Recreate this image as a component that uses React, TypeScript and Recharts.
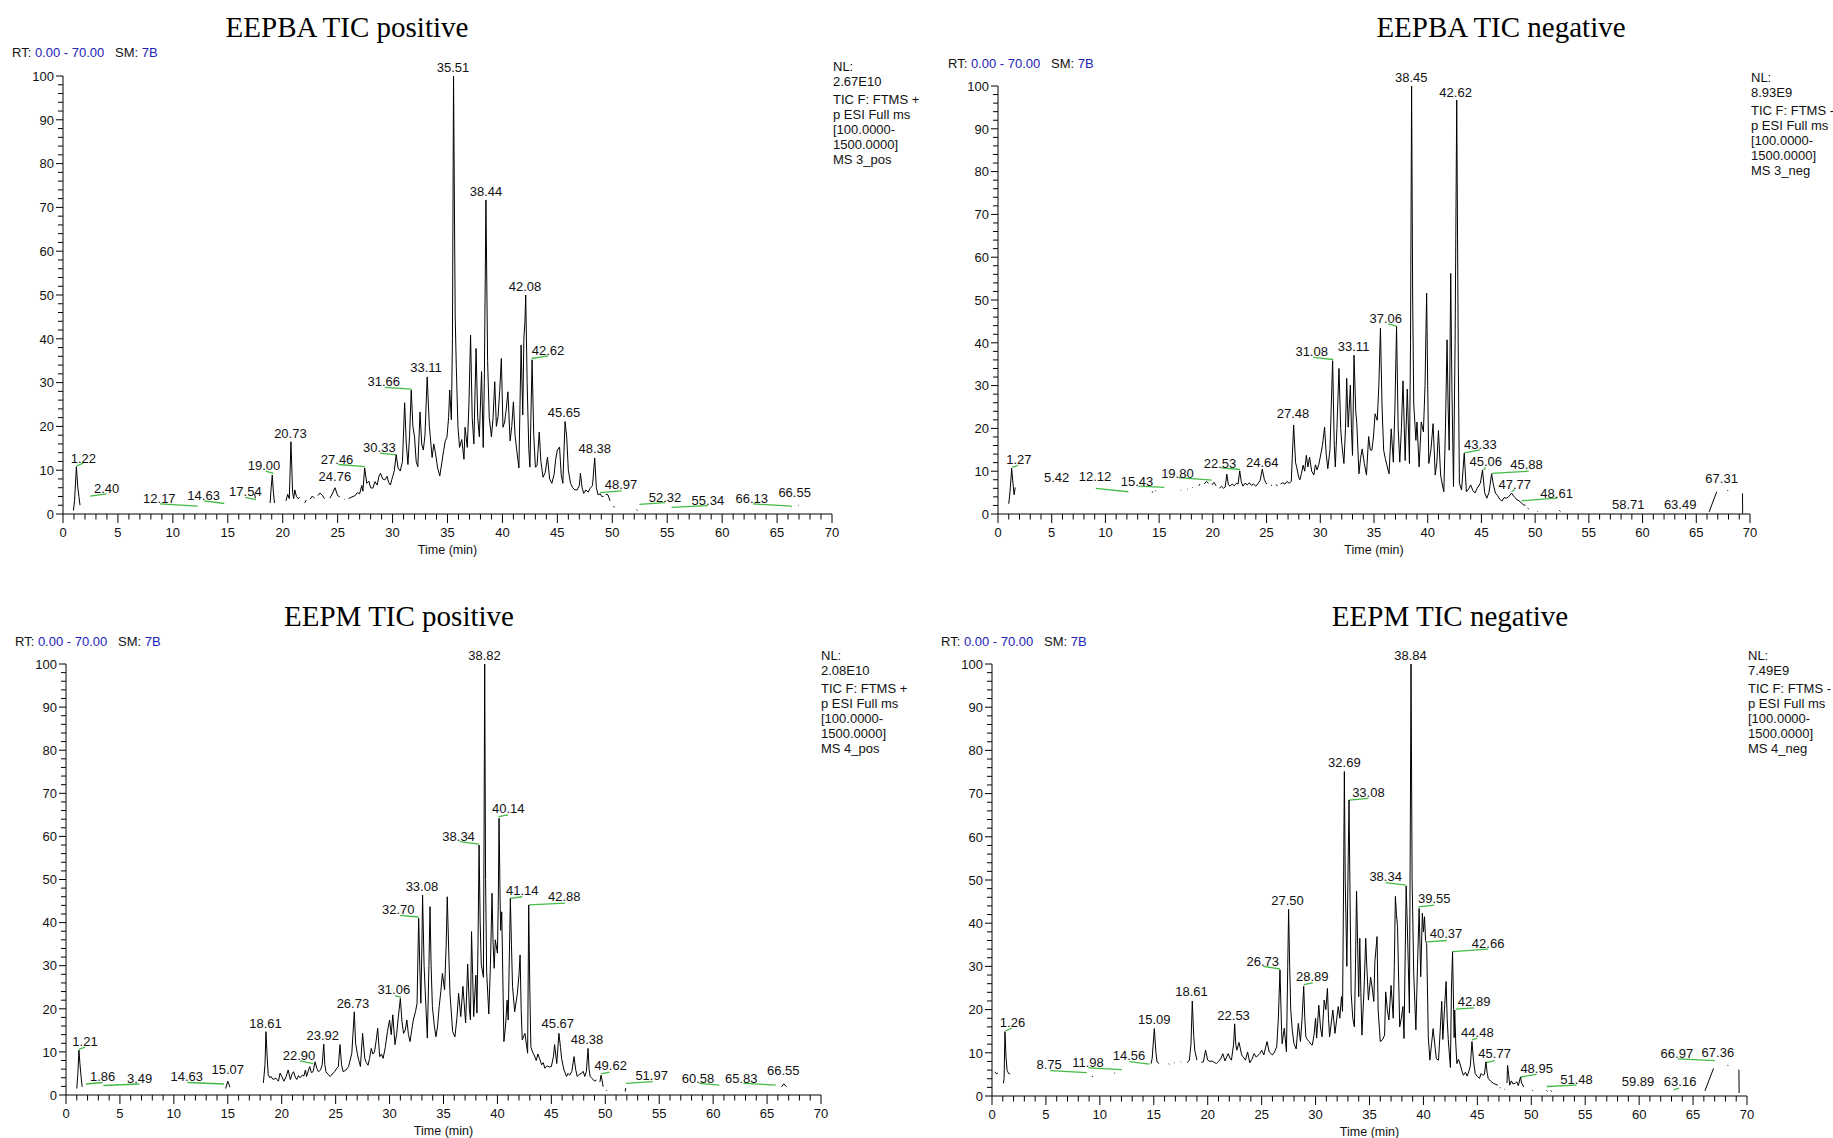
import { LineChart, Line, XAxis, YAxis, ReferenceLine, ReferenceDot } from "recharts";

// ---- axis ticks ----
const xTickLabels = [0, 5, 10, 15, 20, 25, 30, 35, 40, 45, 50, 55, 60, 65, 70];
const yTickLabels = [0, 10, 20, 30, 40, 50, 60, 70, 80, 90, 100];
const xTicks = Array.from({ length: 71 }, (_, i) => i);
const yTicks = Array.from({ length: 51 }, (_, i) => i * 2);

// ---- EEPBA TIC positive ----
const p1Trace: [number, number | null][] = [
  [0.95, 0.8], [1.05, 3], [1.22, 10.8], [1.35, 6], [1.45, 4], [1.55, 2], [1.6, null],
  [17.45, 4.6], [17.5, 3.6], [17.6, null],
  [18.85, 2.5], [18.95, 6], [19.05, 8.9], [19.15, 5], [19.25, 2.5], [19.4, null],
  [20.3, 3], [20.45, 4.5], [20.6, 3.5], [20.75, 16.5], [20.9, 5], [21.0, 3.5], [21.1, 5.5], [21.25, 4], [21.4, 3.5], [21.55, 3.8], [21.8, null],
  [22.0, 2.5], [22.15, 3.2], [22.3, null], [22.5, 3.4], [22.7, 4.1], [22.9, 3.6], [23.0, null],
  [23.2, 4.2], [23.4, 4.8], [23.6, 4.3], [23.8, 3.5], [24.0, null],
  [24.3, 3.6], [24.55, 4.8], [24.76, 6], [25.0, 4.2], [25.2, 3.9], [25.4, null], [25.6, 3.4], [25.65, 3.3], [25.8, null],
  [26.0, 3.5], [26.3, 3.9], [26.6, 4.2], [26.8, 4.9], [27.0, 4.6], [27.2, 6.5], [27.3, 5.2], [27.46, 10.5], [27.65, 7], [27.85, 7.5],
  [28.0, 6], [28.2, 5.9], [28.4, 7.4], [28.6, 6.6], [28.75, 8.5], [28.9, 9.3], [29.1, 8], [29.3, 7.8], [29.5, 8.6], [29.65, 7.2],
  [29.8, 6.6], [30.0, 8.5], [30.15, 9.8], [30.33, 13.5], [30.5, 10.5], [30.7, 9.8], [30.9, 12], [31.1, 25.4], [31.25, 16], [31.4, 11.3],
  [31.55, 18], [31.7, 28.3], [31.85, 20], [32.0, 17.6], [32.15, 12], [32.3, 10.8], [32.5, 23.3], [32.65, 16], [32.8, 14.6], [32.95, 18],
  [33.15, 31.3], [33.35, 20], [33.6, 12.9], [33.75, 16], [33.9, 14], [34.1, 10.5], [34.3, 8.7], [34.5, 12], [34.65, 14.5], [34.8, 16.7],
  [34.95, 17.5], [35.1, 22], [35.2, 28.3], [35.35, 21.5], [35.45, 40], [35.55, 100], [35.7, 45], [35.8, 33.7], [35.95, 20], [36.1, 15.2],
  [36.3, 17], [36.5, 12.5], [36.6, 19.8], [36.8, 15.2], [36.95, 25], [37.1, 40.8], [37.25, 22], [37.4, 16], [37.6, 37.8], [37.75, 22],
  [37.9, 17.6], [38.1, 32.5], [38.25, 15.2], [38.35, 30], [38.5, 71.7], [38.65, 35], [38.8, 22], [39.0, 17.6], [39.15, 22], [39.3, 30.2],
  [39.45, 20], [39.6, 22.2], [39.75, 28], [39.9, 35.5], [40.05, 19.8], [40.2, 21], [40.35, 24], [40.5, 27.9], [40.7, 16.7], [40.85, 20],
  [41.0, 25.6], [41.15, 18], [41.3, 14.6], [41.5, 10.5], [41.6, 25], [41.7, 38.6], [41.85, 22.6], [41.95, 40], [42.05, 44], [42.12, 50],
  [42.25, 30], [42.4, 14.9], [42.5, 10.7], [42.7, 35.2], [42.85, 18], [43.0, 10.7], [43.15, 11], [43.35, 18.7], [43.5, 12], [43.7, 8.4],
  [43.9, 9.5], [44.1, 13], [44.3, 8], [44.5, 7], [44.7, 9], [44.85, 12.5], [45.0, 14.6], [45.2, 15.3], [45.35, 9], [45.5, 7],
  [45.7, 21.1], [45.85, 17.6], [46.0, 10], [46.2, 7], [46.4, 6], [46.6, 5.5], [46.8, 5.5], [47.0, 6.5], [47.1, 9.3], [47.25, 6],
  [47.4, 4.7], [47.6, 5.5], [47.8, 5], [48.0, 5.9], [48.2, 6.5], [48.4, 12.8], [48.55, 6], [48.7, 4.4], [48.9, 4.6], [49.05, 4.0],
  [49.2, 4.0], [49.3, null], [49.4, 4.5], [49.6, 4.4], [49.8, 3.0], [49.95, null], [50.1, 1.8], [50.2, 1.5], [50.5, null],
  [52.2, 1.0], [52.3, 0.8], [52.5, null], [66.25, 1.7], [66.3, 1.6], [66.5, null], [66.95, 2.0], [67.0, 1.9],
];
const p1Labels: [string, number, number][] = [
  ["1.22", 1.85, 11.6], ["2.40", 3.97, 4.7], ["12.17", 8.77, 2.5], ["14.63", 12.8, 3.2], ["17.54", 16.6, 4.2],
  ["19.00", 18.3, 10], ["20.73", 20.7, 17.3], ["24.76", 24.75, 7.6], ["27.46", 24.95, 11.5], ["30.33", 28.8, 14.2],
  ["31.66", 29.2, 29.2], ["33.11", 33.05, 32.5], ["35.51", 35.5, 101], ["38.44", 38.5, 72.6], ["42.08", 42.05, 51],
  ["42.62", 44.15, 36.3], ["45.65", 45.6, 22.2], ["48.38", 48.4, 13.9], ["48.97", 50.8, 5.7], ["52.32", 54.8, 2.8],
  ["55.34", 58.7, 2.0], ["66.13", 62.7, 2.6], ["66.55", 66.6, 3.9],
];
const p1Flags: [number, number, number, number][] = [
  [1.25, 11.0, 1.85, 11.6], [2.46, 4.1, 3.97, 4.6], [8.83, 2.3, 12.26, 1.8], [12.83, 3.0, 14.68, 2.4],
  [16.6, 3.8, 17.57, 3.3], [18.45, 9.8, 19.15, 9.3], [25.06, 11.3, 27.5, 10.8], [28.85, 13.9, 30.37, 13.5],
  [29.3, 28.9, 31.74, 28.5], [42.66, 35.5, 44.17, 36.1], [48.88, 4.9, 50.85, 5.3], [52.46, 2.2, 54.8, 2.6],
  [55.4, 1.5, 58.7, 1.9], [62.8, 2.3, 66.3, 1.8],
];
const p1Info = ["NL:", "2.67E10", "TIC F: FTMS +", "p ESI Full ms", "[100.0000-", "1500.0000]", "MS 3_pos"];

// ---- EEPBA TIC negative ----
const p2Trace: [number, number | null][] = [
  [1.0, 2.4], [1.1, 4.7], [1.2, 8], [1.27, 10.7], [1.4, 7], [1.5, 4.5], [1.6, 6.2], [1.7, null],
  [14.35, 5.3], [14.4, 5.0], [14.5, null], [14.65, 5.5], [14.7, 5.3], [14.8, null],
  [17.0, 5.6], [17.05, 5.5], [17.2, null], [17.6, 5.9], [17.65, 5.8], [17.8, null], [18.1, 6.2], [18.15, 6.1], [18.3, null],
  [18.7, 6.6], [18.8, 7.0], [18.9, null], [19.2, 7.0], [19.4, 7.6], [19.6, 7.2], [19.7, null],
  [19.9, 6.8], [20.1, 7.4], [20.3, 6.6], [20.45, null], [20.6, 6.0], [20.8, 6.5], [21.0, 6.0], [21.15, 6.3], [21.3, 9.3], [21.45, 6.8],
  [21.6, 6.5], [21.8, 7.0], [22.0, 6.6], [22.2, 7.2], [22.35, 7.0], [22.5, 10.1], [22.65, 7.5], [22.8, 6.5], [23.0, 7.2], [23.2, 6.8],
  [23.4, 7.3], [23.6, 6.7], [23.8, 7.0], [24.0, 6.5], [24.2, 7.1], [24.4, 7.8], [24.6, 10.5], [24.8, 8.0], [25.0, 7.0], [25.2, null],
  [25.4, 6.6], [25.5, 6.8], [25.7, null], [25.9, 6.9], [26.0, 6.5], [26.15, null],
  [26.3, 7.0], [26.5, 7.3], [26.7, 7.0], [26.9, 7.6], [27.1, 7.2], [27.3, 7.6], [27.52, 20.8], [27.7, 12], [27.8, 11.0], [28.0, 8.5],
  [28.1, 8.0], [28.25, 9.5], [28.4, 11.4], [28.55, 10], [28.7, 13.7], [28.85, 11], [29.0, 13.3], [29.2, 10], [29.4, 9.1], [29.55, 11.5],
  [29.7, 10.3], [29.85, 11.5], [30.0, 13.3], [30.2, 16], [30.4, 20.3], [30.55, 14], [30.7, 10.6], [30.9, 15], [31.15, 35.8], [31.3, 16],
  [31.4, 11.0], [31.55, 20], [31.74, 34.0], [31.9, 20], [32.0, 16.5], [32.2, 11.8], [32.35, 20], [32.46, 31.7], [32.55, 24], [32.6, 20.3],
  [32.8, 30.1], [32.9, 20], [33.0, 13.7], [33.14, 37.1], [33.3, 24], [33.4, 21.1], [33.6, 9.4], [33.75, 13], [33.9, 15.2], [34.1, 11.8],
  [34.3, 9.1], [34.5, 18.1], [34.65, 15], [34.8, 14.9], [34.95, 18], [35.1, 23.4], [35.3, 21.9], [35.45, 30], [35.6, 43.4], [35.75, 25],
  [35.9, 14.9], [36.05, 13], [36.2, 11.4], [36.4, 9.4], [36.6, 19.9], [36.8, 12.1], [36.95, 25], [37.1, 43.8], [37.25, 20], [37.4, 12.1],
  [37.55, 20], [37.7, 31.1], [37.9, 12.5], [38.1, 29.2], [38.3, 11.8], [38.4, 40], [38.5, 100], [38.6, 50], [38.7, 25.7], [38.9, 17.2],
  [39.0, 21.5], [39.2, 11.0], [39.4, 21.5], [39.6, 19.2], [39.75, 30], [39.9, 51.6], [40.0, 30], [40.1, 11.8], [40.3, 15], [40.5, 21.1],
  [40.7, 9.1], [40.85, 12], [41.0, 19.5], [41.2, 9.1], [41.35, 7], [41.5, 5.2], [41.65, 20], [41.8, 40.7], [41.9, 25], [42.0, 14.9],
  [42.14, 56.2], [42.25, 30], [42.4, 6.4], [42.55, 40], [42.7, 96.7], [42.85, 35], [42.95, 7.2], [43.15, 5.6], [43.4, 14.2], [43.6, 5.2],
  [43.8, 5.8], [44.0, 6.8], [44.2, 5.5], [44.4, 4.9], [44.6, 6], [44.9, 7.2], [45.1, 10.3], [45.3, 5], [45.5, 3.7], [45.7, 5],
  [45.95, 9.4], [46.1, 7], [46.3, 4.9], [46.5, 4.3], [46.7, 3.5], [46.9, 3.0], [47.1, 3.8], [47.35, 3.7], [47.6, 4.2], [47.8, 4.9],
  [48.0, 4.2], [48.15, 3.8], [48.3, 3.3], [48.5, 3.1], [48.7, 2.6], [48.9, 2.2], [49.1, 2.0], [49.2, null], [49.3, 1.4], [49.4, 1.2],
  [49.6, null], [50.2, 0.6], [50.25, 0.5], [50.4, null], [52.25, 0.9], [52.35, 0.6], [52.5, null],
  [66.2, 0.5], [66.9, 5.2], [67.2, null], [67.9, 5.6], [67.95, 5.4], [68.1, null], [69.3, 4.8], [69.32, 0.1],
];
const p2Labels: [string, number, number][] = [
  ["1.27", 1.95, 11.7], ["5.42", 5.46, 7.5], ["12.12", 9.03, 7.7], ["15.43", 12.94, 6.5], ["19.80", 16.7, 8.5],
  ["22.53", 20.66, 10.8], ["24.64", 24.6, 10.9], ["27.48", 27.46, 22.4], ["31.08", 29.2, 36.9], ["33.11", 33.1, 38.1],
  ["37.06", 36.1, 44.7], ["38.45", 38.47, 101], ["42.62", 42.6, 97.5], ["43.33", 44.9, 15.2], ["45.06", 45.4, 11.2],
  ["45.88", 49.2, 10.4], ["47.77", 48.1, 5.9], ["48.61", 52.0, 3.65], ["58.71", 58.67, 1.1], ["63.49", 63.5, 1.1],
  ["67.31", 67.36, 7.2],
];
const p2Flags: [number, number, number, number][] = [
  [1.33, 10.9, 1.89, 11.4], [9.1, 6.0, 12.13, 5.2], [13.06, 6.5, 15.48, 6.2], [16.8, 8.5, 19.9, 7.9],
  [20.76, 10.8, 22.53, 10.4], [29.35, 36.6, 31.2, 36.1], [36.3, 44.4, 37.1, 43.9], [43.41, 14.3, 44.87, 15.0],
  [45.2, 10.3, 45.4, 10.9], [46.0, 9.5, 49.4, 10.0], [47.8, 5.2, 48.1, 5.7], [48.75, 3.1, 52.06, 3.7],
];
const p2Info = ["NL:", "8.93E9", "TIC F: FTMS -", "p ESI Full ms", "[100.0000-", "1500.0000]", "MS 3_neg"];

// ---- EEPM TIC positive ----
const p3Trace: [number, number | null][] = [
  [1.0, 1.5], [1.1, 5], [1.2, 10.4], [1.3, 7], [1.4, 4.2], [1.5, 1.9], [1.6, null],
  [14.8, 1.5], [15.0, 3.2], [15.2, 1.8], [15.3, null],
  [18.3, 2.8], [18.45, 7], [18.54, 14.7], [18.65, 9], [18.75, 4.7], [18.9, 4.0], [19.0, 4.3], [19.2, 3.6], [19.45, 3.9], [19.7, 3.2],
  [19.85, 5.1], [20.0, 4.3], [20.2, 3.2], [20.4, 4.2], [20.6, 5.8], [20.8, 3.6], [20.95, 4.8], [21.1, 5.4], [21.25, 4.2], [21.4, 3.6],
  [21.55, 4.5], [21.7, 4.0], [21.9, 4.6], [22.05, 4.4], [22.2, 5.8], [22.3, 4.3], [22.45, 5.5], [22.6, 6.6], [22.75, 5.2], [22.9, 5.4],
  [23.1, 7.7], [23.25, 6.2], [23.4, 5.4], [23.6, 5.8], [23.75, 7], [23.9, 11.8], [24.0, 7], [24.1, 5.4], [24.3, 4.8], [24.5, 4.3],
  [24.7, 4.9], [24.9, 5.4], [25.1, 6.2], [25.25, 6.6], [25.4, 11.7], [25.55, 7], [25.7, 5.4], [25.95, 5.8], [26.2, 6.6], [26.5, 9.7],
  [26.73, 19.3], [26.85, 12], [27.0, 9.7], [27.15, 8], [27.3, 6.6], [27.5, 14.3], [27.7, 8.5], [27.85, 7.5], [28.0, 6.9], [28.15, 8.5],
  [28.3, 10.8], [28.45, 9.5], [28.6, 10.0], [28.75, 12.5], [28.9, 15.5], [29.05, 10], [29.1, 8.9], [29.25, 9.5], [29.4, 8.5], [29.6, 11],
  [29.8, 14.7], [30.0, 17.4], [30.15, 14], [30.3, 18.6], [30.5, 11.7], [30.65, 14], [30.8, 17.8], [31.0, 22.4], [31.15, 17], [31.3, 14.3],
  [31.45, 15], [31.6, 17.4], [31.75, 14], [31.9, 12.4], [32.05, 15], [32.2, 17.4], [32.4, 19.3], [32.55, 21.3], [32.65, 35], [32.7, 41.0],
  [32.8, 30], [32.9, 21.3], [33.0, 35], [33.06, 46.4], [33.2, 30], [33.3, 24.4], [33.5, 13.2], [33.65, 30], [33.75, 43.7], [33.85, 30],
  [33.97, 20.5], [34.15, 16], [34.3, 13.5], [34.45, 16], [34.6, 20.5], [34.75, 24], [34.9, 28.2], [35.1, 24.4], [35.25, 35], [35.35, 46.0],
  [35.5, 32], [35.6, 23.6], [35.85, 14.7], [36.06, 13.5], [36.25, 18], [36.4, 23.6], [36.6, 18.2], [36.8, 25.2], [37.05, 16.7], [37.24, 30.4],
  [37.4, 20], [37.5, 17.4], [37.6, 37.9], [37.7, 28], [37.8, 18.2], [38.0, 27.8], [38.1, 19.0], [38.2, 35], [38.3, 58.0], [38.4, 40],
  [38.5, 30.4], [38.7, 27.3], [38.76, 60], [38.82, 100], [38.9, 50], [39.0, 28.6], [39.2, 18.8], [39.35, 30], [39.5, 46.8], [39.6, 35],
  [39.7, 29.4], [39.8, 36.0], [40.0, 32.9], [40.08, 45], [40.15, 64.2], [40.25, 45], [40.3, 38.2], [40.4, 42.5], [40.6, 12.4], [40.75, 16],
  [40.9, 22.0], [41.0, 17.4], [41.2, 45.6], [41.3, 35], [41.4, 25.2], [41.6, 19.3], [41.85, 23.6], [42.0, 28], [42.1, 32.5], [42.2, 20],
  [42.3, 12.8], [42.55, 14.3], [42.8, 9.7], [42.9, 44.1], [43.0, 25], [43.1, 11.2], [43.25, 10], [43.4, 9.3], [43.6, 8], [43.75, 9.5],
  [43.9, 8.5], [44.1, 7], [44.25, 7.5], [44.4, 6.2], [44.6, 6.8], [44.8, 6.5], [45.0, 6.6], [45.2, 9], [45.3, 11.7], [45.5, 7.3],
  [45.7, 14.3], [45.85, 11], [45.95, 8.5], [46.15, 6], [46.4, 4.3], [46.55, 5], [46.7, 4.6], [46.9, 5.5], [47.1, 8.9], [47.25, 6],
  [47.4, 4.3], [47.6, 4.8], [47.8, 5.0], [47.95, 5.5], [48.1, 4.3], [48.25, 5.5], [48.4, 10.8], [48.5, 6], [48.6, 4.3], [48.8, 3.8],
  [49.0, 3.2], [49.2, 3.5], [49.35, null], [49.5, 3.0], [49.6, 4.6], [49.7, 3.5], [49.8, 1.9], [49.95, null], [50.1, 1.2], [50.15, 1.0],
  [50.3, null], [51.85, 0.8], [51.9, 1.6], [52.0, null], [66.35, 1.9], [66.55, 2.6], [66.8, 1.9],
];
const p3Labels: [string, number, number][] = [
  ["1.21", 1.76, 11.4], ["1.86", 3.4, 3.3], ["3.49", 6.83, 2.9], ["14.63", 11.2, 3.3], ["15.07", 15.0, 4.9],
  ["18.61", 18.5, 15.5], ["22.90", 21.6, 8.1], ["23.92", 23.8, 12.8], ["26.73", 26.6, 20.3], ["31.06", 30.4, 23.5],
  ["32.70", 30.8, 42.0], ["33.08", 33.0, 47.4], ["38.34", 36.4, 59.0], ["38.82", 38.8, 101], ["40.14", 41.0, 65.4],
  ["41.14", 42.3, 46.4], ["42.88", 46.2, 44.9], ["45.67", 45.6, 15.6], ["48.38", 48.3, 11.8], ["49.62", 50.5, 5.8],
  ["51.97", 54.3, 3.5], ["60.58", 58.6, 2.9], ["65.83", 62.6, 2.9], ["66.55", 66.5, 4.6],
];
const p3Flags: [number, number, number, number][] = [
  [1.2, 10.6, 1.76, 11.1], [1.85, 2.55, 3.4, 2.9], [3.46, 2.2, 6.8, 2.55], [11.25, 2.9, 14.65, 2.55],
  [21.7, 7.9, 22.93, 7.3], [30.5, 23.0, 31.06, 22.7], [30.98, 41.7, 32.7, 41.3], [36.5, 58.8, 38.3, 58.2],
  [40.1, 64.6, 41.0, 65.0], [41.2, 45.6, 42.3, 46.0], [42.93, 44.1, 46.27, 44.5], [49.6, 4.9, 50.4, 5.3],
  [51.9, 2.7, 54.4, 3.1], [58.7, 2.7, 60.57, 2.3], [62.8, 2.7, 65.8, 2.3],
];
const p3Info = ["NL:", "2.08E10", "TIC F: FTMS +", "p ESI Full ms", "[100.0000-", "1500.0000]", "MS 4_pos"];

// ---- EEPM TIC negative ----
const p4Trace: [number, number | null][] = [
  [0.25, 5.6], [0.4, 5.2], [0.55, 5.3], [0.7, null],
  [1.05, 2.9], [1.12, 4], [1.2, 14.9], [1.3, 9], [1.4, 5.9], [1.55, 5.2], [1.67, 5.1], [1.8, null],
  [9.3, 4.6], [9.33, 4.4], [9.5, null], [11.35, 5.4], [11.38, 5.2], [11.5, null],
  [14.75, 7.5], [14.85, 8.7], [15.05, 15.6], [15.2, 10], [15.3, 7.9], [15.5, 7.5], [15.7, null],
  [16.4, 7.5], [16.45, 7.3], [16.6, null], [16.9, 7.7], [16.95, 7.6], [17.1, null], [17.5, 7.9], [17.55, 7.8], [17.7, null],
  [18.1, 7.7], [18.3, 8.3], [18.45, 12], [18.57, 22.0], [18.7, 14], [18.8, 10.6], [19.0, 8.3], [19.2, null],
  [19.4, 7.8], [19.6, 7.9], [19.8, 10.6], [20.0, 8.3], [20.2, 8.0], [20.4, 8.1], [20.6, 7.8], [20.8, 7.5], [21.0, 8.0], [21.2, 8.6],
  [21.4, 9.8], [21.6, 8.1], [21.75, 9.0], [21.9, 9.8], [22.05, 8.8], [22.2, 8.3], [22.4, 12.0], [22.5, 16.7], [22.6, 12], [22.7, 10.6],
  [22.9, 12.4], [23.15, 9.5], [23.3, 9.0], [23.5, 8.3], [23.7, 10.2], [23.9, 7.7], [24.1, 8.5], [24.3, 9.8], [24.5, 9.0], [24.7, 9.5],
  [24.85, 9.9], [25.0, 10.6], [25.2, 9.5], [25.5, 12.6], [25.7, 10.2], [26.0, 9.5], [26.2, 10.2], [26.4, 11.4], [26.55, 18], [26.7, 29.2],
  [26.85, 15], [26.9, 12.1], [27.1, 15.7], [27.3, 10.2], [27.42, 30], [27.5, 43.2], [27.6, 30], [27.7, 19.9], [27.85, 15], [28.0, 12.1],
  [28.2, 10.9], [28.4, 16.8], [28.6, 12.6], [28.75, 18], [28.9, 25.4], [29.0, 18], [29.1, 13.7], [29.25, 13], [29.4, 12.6], [29.55, 12],
  [29.7, 11.8], [29.85, 14], [30.0, 18.0], [30.1, 13.4], [30.3, 21.0], [30.45, 16], [30.6, 13.7], [30.8, 22.2], [30.95, 20], [31.1, 24.9],
  [31.2, 18], [31.3, 13.7], [31.6, 19.9], [31.8, 14.5], [32.1, 20.7], [32.25, 18], [32.4, 23.0], [32.5, 19.6], [32.6, 50], [32.67, 75.1],
  [32.75, 50], [32.9, 30.0], [33.0, 50], [33.1, 68.5], [33.2, 45], [33.3, 23.8], [33.45, 18], [33.6, 16.0], [33.7, 30], [33.8, 47.4],
  [33.9, 35], [34.0, 23.0], [34.1, 36.5], [34.2, 24], [34.3, 14.1], [34.5, 25], [34.65, 36.5], [34.75, 30], [34.9, 22.2], [35.1, 27.5],
  [35.25, 25], [35.4, 21.9], [35.5, 31.2], [35.7, 36.9], [35.8, 19.9], [36.0, 12.6], [36.2, 13], [36.4, 14.1], [36.5, 24.1], [36.65, 20],
  [36.8, 17.6], [37.0, 25.6], [37.2, 18.0], [37.3, 30], [37.4, 46.2], [37.5, 42], [37.6, 39.2], [37.8, 16.0], [37.95, 18], [38.1, 20.7],
  [38.2, 13.3], [38.4, 48.6], [38.5, 40.0], [38.6, 30], [38.7, 19.2], [38.78, 60], [38.85, 100], [38.95, 50], [39.1, 28.4], [39.3, 15.3],
  [39.45, 30], [39.6, 43.4], [39.75, 27.6], [39.9, 42.3], [40.0, 38], [40.1, 41.5], [40.2, 36], [40.3, 35.3], [40.45, 13.7], [40.6, 8.3],
  [40.75, 12], [40.9, 15.6], [41.05, 12], [41.2, 8.6], [41.4, 8.3], [41.55, 15], [41.7, 21.9], [41.8, 13.1], [41.95, 20], [42.1, 26.5],
  [42.2, 18], [42.3, 13.1], [42.5, 6.6], [42.6, 25], [42.7, 33.4], [42.8, 20], [42.85, 13.5], [42.9, 19.9], [43.0, 12], [43.1, 7.5],
  [43.25, 8.5], [43.4, 7.4], [43.55, 6], [43.7, 4.8], [43.9, 5.5], [44.05, 4.6], [44.2, 5.6], [44.35, 7], [44.5, 12.6], [44.65, 8],
  [44.8, 5.2], [45.0, 4.5], [45.2, 4.1], [45.35, 5.2], [45.5, 4.8], [45.65, 5], [45.8, 7.9], [45.9, 5.5], [46.0, 4.1], [46.2, 3.5],
  [46.5, 2.9], [46.7, 2.7], [46.9, 2.5], [47.0, null], [47.1, 2.0], [47.15, 1.8], [47.3, null], [47.5, 1.6], [47.55, 1.5], [47.65, null],
  [47.75, 3.0], [47.8, 7.1], [47.9, 5], [48.0, 2.5], [48.15, 3.5], [48.3, 2.8], [48.5, 2.9], [48.65, 3.3], [48.8, 2.4], [49.0, 4.4],
  [49.1, 3.0], [49.3, 2.1], [49.5, null], [50.1, 1.4], [50.15, 1.2], [50.3, null], [51.4, 1.3], [51.5, 1.1], [51.6, null],
  [51.8, 1.3], [51.9, 1.0], [52.0, null], [66.1, 1.2], [66.9, 6.4], [67.2, null], [68.2, 7.2], [68.25, 7.0], [68.4, null],
  [69.25, 6.1], [69.27, 0.7],
];
const p4Labels: [string, number, number][] = [
  ["1.26", 1.9, 16.0], ["8.75", 5.3, 6.2], ["11.98", 8.9, 6.8], ["14.56", 12.7, 8.3], ["15.09", 15.05, 16.6],
  ["18.61", 18.5, 23.1], ["22.53", 22.4, 17.7], ["26.73", 25.1, 30.1], ["27.50", 27.4, 44.2], ["28.89", 29.7, 26.7],
  ["32.69", 32.67, 76.2], ["33.08", 34.9, 69.3], ["38.34", 36.5, 49.8], ["38.84", 38.8, 101], ["39.55", 41.0, 44.6],
  ["40.37", 42.1, 36.5], ["42.66", 46.0, 34.2], ["42.89", 44.7, 20.9], ["44.48", 45.0, 13.7], ["45.77", 46.6, 8.7],
  ["48.95", 50.5, 5.4], ["51.48", 54.2, 2.7], ["59.89", 59.9, 2.2], ["63.16", 63.8, 2.2], ["66.97", 63.5, 8.8],
  ["67.36", 67.3, 9.1],
];
const p4Flags: [number, number, number, number][] = [
  [1.27, 15.1, 1.83, 15.7], [5.38, 5.86, 8.78, 5.4], [8.93, 6.5, 12.02, 6.1], [12.73, 7.98, 14.6, 7.4],
  [25.16, 30.0, 26.7, 29.4], [28.9, 25.8, 29.73, 26.2], [33.1, 68.5, 34.9, 68.9], [36.5, 49.4, 38.4, 48.8],
  [39.53, 43.8, 41.0, 44.2], [40.36, 35.7, 42.15, 36.0], [42.7, 33.4, 46.0, 34.0], [43.0, 20.1, 44.7, 20.4],
  [44.5, 13.0, 45.0, 13.4], [45.8, 7.7, 46.6, 8.2], [49.0, 4.4, 50.5, 5.0], [51.43, 2.2, 54.2, 2.5],
  [63.2, 1.4, 63.7, 1.8], [63.6, 8.6, 67.0, 8.2],
];
const p4Info = ["NL:", "7.49E9", "TIC F: FTMS -", "p ESI Full ms", "[100.0000-", "1500.0000]", "MS 4_neg"];

// ---- layout ----
const FONT = "'Liberation Sans', Arial, sans-serif";
const GREEN = "#44bb44";
const BLUE = "#2323b8";

const panels = [
  { title: "EEPBA TIC positive", trace: p1Trace, labels: p1Labels, flags: p1Flags, info: p1Info,
    box: { L: 63, T: 76, R: 832, B: 514 }, titleX: 347, titleY: 37, rtX: 12, rtY: 57, infoX: 833, infoY: 70.5 },
  { title: "EEPBA TIC negative", trace: p2Trace, labels: p2Labels, flags: p2Flags, info: p2Info,
    box: { L: 998, T: 86, R: 1750, B: 514 }, titleX: 1501, titleY: 37, rtX: 948, rtY: 68, infoX: 1751, infoY: 81.5 },
  { title: "EEPM TIC positive", trace: p3Trace, labels: p3Labels, flags: p3Flags, info: p3Info,
    box: { L: 66, T: 664, R: 821, B: 1095 }, titleX: 399, titleY: 626, rtX: 15, rtY: 645.5, infoX: 821, infoY: 659.5 },
  { title: "EEPM TIC negative", trace: p4Trace, labels: p4Labels, flags: p4Flags, info: p4Info,
    box: { L: 992, T: 664, R: 1747, B: 1096 }, titleX: 1450, titleY: 626, rtX: 941, rtY: 645.5, infoX: 1748, infoY: 659.5 },
];
const infoOffsets = [0, 15.5, 33.5, 48.5, 63.5, 78.5, 93.5];

const renderXTick = (props: any) => {
  const { x, y, payload } = props;
  const major = xTickLabels.includes(payload.value);
  return (
    <g>
      <line x1={x} x2={x} y1={y} y2={y + (major ? 9 : 5.5)} stroke="#000" strokeWidth={1} />
      {major && (
        <text x={x} y={y + 22.5} textAnchor="middle" fontSize={13} fontFamily={FONT} fill="#111">
          {payload.value}
        </text>
      )}
    </g>
  );
};

const renderYTick = (props: any) => {
  const { x, y, payload } = props;
  const major = yTickLabels.includes(payload.value);
  return (
    <g>
      <line x1={x - (major ? 7 : 5)} x2={x} y1={y} y2={y} stroke="#000" strokeWidth={1} />
      {major && (
        <text x={x - 9} y={y + 4.7} textAnchor="end" fontSize={13} fontFamily={FONT} fill="#111">
          {payload.value}
        </text>
      )}
    </g>
  );
};

function Panel({ p }: { p: any }) {
  const w = p.box.R - p.box.L;
  const h = p.box.B - p.box.T;
  const data = p.trace.map(([t, v]: [number, number | null]) => ({ t, v }));
  return (
    <div style={{ position: "absolute", left: p.box.L - 60, top: p.box.T - 25 }}>
      <LineChart width={w + 80} height={h + 70} data={data} margin={{ top: 25, right: 20, bottom: 0, left: 0 }}>
        <XAxis dataKey="t" type="number" domain={[0, 70]} ticks={xTicks} interval={0} height={45}
          tickSize={0} tickMargin={0} tickLine={false} axisLine={{ stroke: "#000" }} tick={renderXTick} />
        <YAxis type="number" domain={[0, 100]} ticks={yTicks} interval={0} width={60}
          tickSize={0} tickMargin={0} tickLine={false} axisLine={{ stroke: "#000" }} tick={renderYTick} />
        {p.flags.map((f: number[], i: number) => (
          <ReferenceLine key={"f" + i} segment={[{ x: f[0], y: f[1] }, { x: f[2], y: f[3] }]}
            stroke={GREEN} strokeWidth={1.3} ifOverflow="visible" />
        ))}
        <Line type="linear" dataKey="v" stroke="#000" strokeWidth={1} dot={false} activeDot={false}
          connectNulls={false} isAnimationActive={false} />
        {p.labels.map((l: [string, number, number], i: number) => (
          <ReferenceDot key={"l" + i} x={l[1]} y={l[2]} r={0} ifOverflow="visible"
            shape={(sp: any) => (
              <text x={sp.cx} y={sp.cy} textAnchor="middle" fontSize={13} fontFamily={FONT} fill="#111">
                {l[0]}
              </text>
            )} />
        ))}
      </LineChart>
    </div>
  );
}

export default function App() {
  return (
    <div style={{ position: "absolute", left: 0, top: 0, width: 1833, height: 1138, background: "#fff" }}>
      {panels.map((p, i) => <Panel key={i} p={p} />)}
      <svg width={1833} height={1138} style={{ position: "absolute", left: 0, top: 0, pointerEvents: "none" }}>
        {panels.map((p, i) => (
          <g key={i}>
            <text x={p.titleX} y={p.titleY} textAnchor="middle" fontSize={29}
              fontFamily="'Liberation Serif', 'Times New Roman', serif" fill="#000">{p.title}</text>
            <text x={p.rtX} y={p.rtY} fontSize={13} fontFamily={FONT} fill="#111" xmlSpace="preserve">
              <tspan>RT: </tspan>
              <tspan fill={BLUE}>0.00 - 70.00</tspan>
              <tspan>{"   SM: "}</tspan>
              <tspan fill={BLUE}>7B</tspan>
            </text>
            {p.info.map((s: string, k: number) => (
              <text key={k} x={p.infoX} y={p.infoY + infoOffsets[k]} fontSize={13} fontFamily={FONT} fill="#111">{s}</text>
            ))}
            <text x={(p.box.L + p.box.R) / 2} y={p.box.B + 40} textAnchor="middle" fontSize={12.5}
              fontFamily={FONT} fill="#111">Time (min)</text>
          </g>
        ))}
      </svg>
    </div>
  );
}
